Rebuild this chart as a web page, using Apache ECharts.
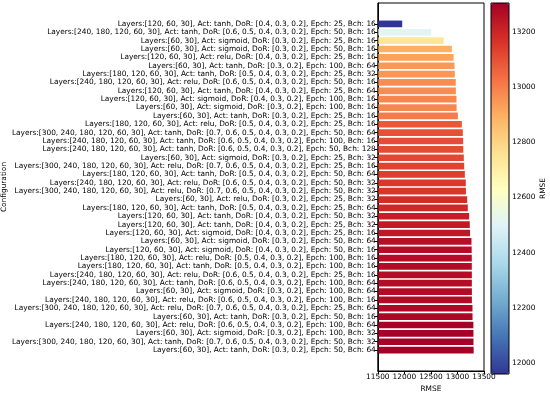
<!DOCTYPE html>
<html>
<head>
<meta charset="utf-8">
<script src="https://cdn.jsdelivr.net/npm/echarts@6/dist/echarts.min.js"></script>
<style>html,body{margin:0;padding:0;background:#fff;}#c{width:550px;height:398px;}</style>
</head>
<body>
<div id="c"></div>
<script>
const categories = [
"Layers:[120, 60, 30], Act: tanh, DoR: [0.4, 0.3, 0.2], Epch: 25, Bch: 16",
"Layers:[240, 180, 120, 60, 30], Act: tanh, DoR: [0.6, 0.5, 0.4, 0.3, 0.2], Epch: 50, Bch: 16",
"Layers:[60, 30], Act: sigmoid, DoR: [0.3, 0.2], Epch: 25, Bch: 16",
"Layers:[60, 30], Act: sigmoid, DoR: [0.3, 0.2], Epch: 50, Bch: 16",
"Layers:[120, 60, 30], Act: relu, DoR: [0.4, 0.3, 0.2], Epch: 25, Bch: 16",
"Layers:[60, 30], Act: tanh, DoR: [0.3, 0.2], Epch: 100, Bch: 64",
"Layers:[180, 120, 60, 30], Act: tanh, DoR: [0.5, 0.4, 0.3, 0.2], Epch: 25, Bch: 32",
"Layers:[240, 180, 120, 60, 30], Act: relu, DoR: [0.6, 0.5, 0.4, 0.3, 0.2], Epch: 50, Bch: 16",
"Layers:[120, 60, 30], Act: tanh, DoR: [0.4, 0.3, 0.2], Epch: 25, Bch: 64",
"Layers:[120, 60, 30], Act: sigmoid, DoR: [0.4, 0.3, 0.2], Epch: 100, Bch: 16",
"Layers:[60, 30], Act: sigmoid, DoR: [0.3, 0.2], Epch: 100, Bch: 16",
"Layers:[60, 30], Act: tanh, DoR: [0.3, 0.2], Epch: 25, Bch: 16",
"Layers:[180, 120, 60, 30], Act: relu, DoR: [0.5, 0.4, 0.3, 0.2], Epch: 25, Bch: 16",
"Layers:[300, 240, 180, 120, 60, 30], Act: tanh, DoR: [0.7, 0.6, 0.5, 0.4, 0.3, 0.2], Epch: 50, Bch: 64",
"Layers:[240, 180, 120, 60, 30], Act: tanh, DoR: [0.6, 0.5, 0.4, 0.3, 0.2], Epch: 100, Bch: 16",
"Layers:[240, 180, 120, 60, 30], Act: tanh, DoR: [0.6, 0.5, 0.4, 0.3, 0.2], Epch: 50, Bch: 128",
"Layers:[60, 30], Act: sigmoid, DoR: [0.3, 0.2], Epch: 25, Bch: 32",
"Layers:[300, 240, 180, 120, 60, 30], Act: relu, DoR: [0.7, 0.6, 0.5, 0.4, 0.3, 0.2], Epch: 25, Bch: 16",
"Layers:[180, 120, 60, 30], Act: tanh, DoR: [0.5, 0.4, 0.3, 0.2], Epch: 50, Bch: 64",
"Layers:[240, 180, 120, 60, 30], Act: relu, DoR: [0.6, 0.5, 0.4, 0.3, 0.2], Epch: 50, Bch: 32",
"Layers:[300, 240, 180, 120, 60, 30], Act: relu, DoR: [0.7, 0.6, 0.5, 0.4, 0.3, 0.2], Epch: 50, Bch: 32",
"Layers:[60, 30], Act: relu, DoR: [0.3, 0.2], Epch: 25, Bch: 32",
"Layers:[180, 120, 60, 30], Act: tanh, DoR: [0.5, 0.4, 0.3, 0.2], Epch: 25, Bch: 64",
"Layers:[120, 60, 30], Act: tanh, DoR: [0.4, 0.3, 0.2], Epch: 50, Bch: 32",
"Layers:[120, 60, 30], Act: tanh, DoR: [0.4, 0.3, 0.2], Epch: 25, Bch: 32",
"Layers:[120, 60, 30], Act: sigmoid, DoR: [0.4, 0.3, 0.2], Epch: 25, Bch: 16",
"Layers:[60, 30], Act: sigmoid, DoR: [0.3, 0.2], Epch: 50, Bch: 64",
"Layers:[120, 60, 30], Act: sigmoid, DoR: [0.4, 0.3, 0.2], Epch: 50, Bch: 16",
"Layers:[180, 120, 60, 30], Act: relu, DoR: [0.5, 0.4, 0.3, 0.2], Epch: 100, Bch: 16",
"Layers:[180, 120, 60, 30], Act: tanh, DoR: [0.5, 0.4, 0.3, 0.2], Epch: 100, Bch: 16",
"Layers:[240, 180, 120, 60, 30], Act: relu, DoR: [0.6, 0.5, 0.4, 0.3, 0.2], Epch: 25, Bch: 16",
"Layers:[240, 180, 120, 60, 30], Act: tanh, DoR: [0.6, 0.5, 0.4, 0.3, 0.2], Epch: 100, Bch: 64",
"Layers:[60, 30], Act: sigmoid, DoR: [0.3, 0.2], Epch: 100, Bch: 64",
"Layers:[240, 180, 120, 60, 30], Act: relu, DoR: [0.6, 0.5, 0.4, 0.3, 0.2], Epch: 100, Bch: 16",
"Layers:[300, 240, 180, 120, 60, 30], Act: relu, DoR: [0.7, 0.6, 0.5, 0.4, 0.3, 0.2], Epch: 25, Bch: 64",
"Layers:[60, 30], Act: tanh, DoR: [0.3, 0.2], Epch: 50, Bch: 16",
"Layers:[240, 180, 120, 60, 30], Act: relu, DoR: [0.6, 0.5, 0.4, 0.3, 0.2], Epch: 100, Bch: 64",
"Layers:[60, 30], Act: sigmoid, DoR: [0.3, 0.2], Epch: 100, Bch: 32",
"Layers:[300, 240, 180, 120, 60, 30], Act: tanh, DoR: [0.7, 0.6, 0.5, 0.4, 0.3, 0.2], Epch: 50, Bch: 32",
"Layers:[60, 30], Act: tanh, DoR: [0.3, 0.2], Epch: 50, Bch: 64"
];
const rmse = [
11960, 12508, 12740, 12895, 12927, 12945, 12951, 12968, 12970, 12982,
12984, 13008, 13083, 13101, 13108, 13110, 13120, 13127, 13139, 13157,
13159, 13183, 13195, 13220, 13232, 13238, 13264, 13268, 13270, 13270,
13271, 13271, 13272, 13272, 13283, 13284, 13300, 13301, 13302, 13305
];
const xTicks = [11500, 12000, 12500, 13000, 13500];
const colorbarTicks = [12000, 12200, 12400, 12600, 12800, 13000, 13200];
const colorMin = 11960, colorMax = 13305;
const rdylbuR = ['#313695','#4575b4','#74add1','#abd9e9','#e0f3f8','#ffffbf','#fee090','#fdae61','#f46d43','#d73027','#a50026'];

const PAD = 2;
const padCats = [];
const padData = [];
for (let i = 0; i < PAD; i++) { padCats.push(''); padData.push(['-', padCats.length - 1]); }
categories.forEach((c, i) => { padCats.push(c); padData.push([rmse[i], padCats.length - 1]); });
for (let i = 0; i < PAD; i++) { padCats.push(''); padData.push(['-', padCats.length - 1]); }

const FONT = 'DejaVu Sans';
const FS = 7.4;
const plain = v => String(v);
const chart = echarts.init(document.getElementById('c'), null, {renderer: 'canvas'});
chart.setOption({
  backgroundColor: '#fff',
  animation: false,
  textStyle: {fontFamily: FONT},
  grid: [
    {left: 376, right: 66, top: 3, bottom: 24, show: true, borderColor: '#000', borderWidth: 1, backgroundColor: 'transparent', z: 10},
    {left: 491, width: 18, top: 3, bottom: 24, show: true, borderColor: '#000', borderWidth: 1, backgroundColor: 'transparent', z: 10}
  ],
  xAxis: [
    {type: 'value', gridIndex: 0, min: xTicks[0], max: xTicks[xTicks.length - 1], interval: 500,
     splitLine: {show: false},
     axisLine: {show: true, lineStyle: {color: '#000'}},
     axisTick: {show: true, length: 3.5, inside: false, lineStyle: {color: '#000'}},
     axisLabel: {fontSize: FS, color: '#000', margin: 3, fontFamily: FONT, formatter: plain},
     name: 'RMSE', nameLocation: 'middle', nameGap: 15,
     nameTextStyle: {fontSize: FS, color: '#000', fontFamily: FONT}},
    {type: 'value', gridIndex: 1, show: false, min: 0, max: 1}
  ],
  yAxis: [
    {type: 'category', gridIndex: 0, data: padCats, inverse: true,
     axisLine: {show: true, lineStyle: {color: '#000'}},
     axisTick: {show: true, alignWithLabel: true, length: 3.5, interval: (idx, val) => val !== '', lineStyle: {color: '#000'}},
     axisLabel: {fontSize: FS, color: '#000', margin: 2, interval: 0, fontFamily: FONT},
     splitLine: {show: false},
     name: 'Configuration', nameLocation: 'middle', nameGap: 362, nameRotate: 90,
     nameTextStyle: {fontSize: FS, color: '#000', fontFamily: FONT}},
    {type: 'value', gridIndex: 1, position: 'right', min: colorMin, max: colorMax,
     splitLine: {show: false},
     axisLine: {show: false},
     axisTick: {show: true, length: 3.5, customValues: colorbarTicks, lineStyle: {color: '#000'}},
     axisLabel: {fontSize: FS, color: '#000', margin: 3, customValues: colorbarTicks, fontFamily: FONT, formatter: plain},
     name: 'RMSE', nameLocation: 'middle', nameGap: 31, nameRotate: 90,
     nameTextStyle: {fontSize: FS, color: '#000', fontFamily: FONT}}
  ],
  visualMap: {
    type: 'continuous', seriesIndex: 0, dimension: 0,
    min: colorMin, max: colorMax,
    left: 491, top: 3, itemWidth: 18, itemHeight: 371, padding: 0,
    calculable: false, hoverLink: false, text: ['', ''], showLabel: false,
    inRange: {color: rdylbuR}
  },
  series: [
    {type: 'bar', xAxisIndex: 0, yAxisIndex: 0, data: padData, barWidth: '80%', encode: {x: 0, y: 1}},
    {type: 'scatter', xAxisIndex: 1, yAxisIndex: 1, data: []}
  ]
});
</script>
</body>
</html>
